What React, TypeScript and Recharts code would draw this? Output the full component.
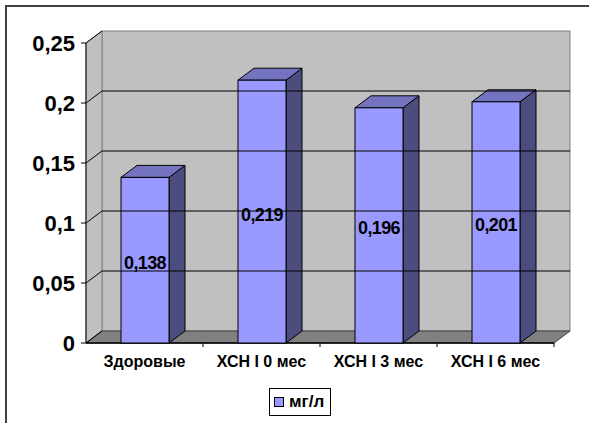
import { Bar, BarChart, LabelList, ReferenceArea, ReferenceLine, XAxis, YAxis } from 'recharts';

const CATEGORIES = ['Здоровые', 'ХСН I 0 мес', 'ХСН I 3 мес', 'ХСН I 6 мес'];
const VALUES = [0.138, 0.219, 0.196, 0.201];
const Y_TICKS = [0, 0.05, 0.1, 0.15, 0.2, 0.25];
const SERIES_NAME = 'мг/л';

const data = CATEGORIES.map((category, i) => ({ category, value: VALUES[i] }));

const FONT = 'Arial, "Liberation Sans", sans-serif';
// 3D depth of walls and bars
const DX = 16;
const DY = -12;

const WALL = '#C0C0C0';
const FLOOR = '#808080';
const FRONT = '#9999FF';
const TOP = '#7373BF';
const SIDE = '#4C4C7F';

const fmt = (v: number | string) => String(v).replace('.', ',');

function Walls(props: any) {
  const { x, y, width: w, height: h } = props;
  const band = w / CATEGORIES.length;
  return (
    <g>
      <rect x={x + DX} y={y + DY} width={w} height={h} fill={WALL} stroke="#808080" />
      <polygon
        points={`${x},${y} ${x + DX},${y + DY} ${x + DX},${y + h + DY} ${x},${y + h}`}
        fill={WALL}
        stroke="#808080"
      />
      <polygon
        points={`${x},${y + h} ${x + w},${y + h} ${x + w + DX},${y + h + DY} ${x + DX},${y + h + DY}`}
        fill={FLOOR}
        stroke="#404040"
      />
      <line x1={x} y1={y} x2={x} y2={y + h} stroke="#404040" strokeWidth={1.5} />
      <line x1={x} y1={y + h} x2={x + w} y2={y + h} stroke="#000" strokeWidth={1.5} />
      {CATEGORIES.map((c, i) => (
        <line
          key={c}
          x1={x + band * (i + 1)}
          y1={y + h}
          x2={x + band * (i + 1)}
          y2={y + h + 4}
          stroke="#000"
        />
      ))}
    </g>
  );
}

function GridLine(props: any) {
  const { x1, y1, x2, value } = props;
  if (x1 == null) return null;
  return (
    <g>
      <line x1={x1 - 5} y1={y1} x2={x1} y2={y1} stroke="#000" />
      <line x1={x1} y1={y1} x2={x1 + DX} y2={y1 + DY} stroke="#000" />
      {value > 0 && value < 0.25 && (
        <line x1={x1 + DX} y1={y1 + DY} x2={x2 + DX} y2={y1 + DY} stroke="#000" />
      )}
    </g>
  );
}

function Bar3D(props: any) {
  const { x, y, width: w, height: h } = props;
  if (!h) return null;
  return (
    <g stroke="#000" strokeWidth={1}>
      <polygon
        points={`${x + w},${y} ${x + w + DX},${y + DY} ${x + w + DX},${y + h + DY} ${x + w},${y + h}`}
        fill={SIDE}
      />
      <polygon
        points={`${x},${y} ${x + DX},${y + DY} ${x + w + DX},${y + DY} ${x + w},${y}`}
        fill={TOP}
      />
      <rect x={x} y={y} width={w} height={h} fill={FRONT} />
    </g>
  );
}

function ValueLabel(props: any) {
  const { x, y, width, height, value } = props;
  return (
    <text
      x={x + width / 2}
      y={y + height / 2 + 9}
      textAnchor="middle"
      fontFamily={FONT}
      fontSize={18}
      fontWeight="bold"
      letterSpacing={-0.6}
      fill="#000"
    >
      {fmt(value)}
    </text>
  );
}

function YTick(props: any) {
  const { x, y, payload } = props;
  return (
    <text
      x={x - 11}
      y={y + 8}
      textAnchor="end"
      fontFamily={FONT}
      fontSize={22}
      fontWeight="bold"
      fill="#000"
    >
      {fmt(payload.value)}
    </text>
  );
}

function XTick(props: any) {
  const { x, y, payload } = props;
  return (
    <text
      x={x}
      y={y + 24}
      textAnchor="middle"
      fontFamily={FONT}
      fontSize={16}
      fontWeight="bold"
      fill="#000"
    >
      {payload.value}
    </text>
  );
}

export default function App() {
  return (
    <div
      style={{
        position: 'absolute',
        left: 0,
        top: 0,
        width: 589,
        height: 423,
        overflow: 'hidden',
        background: '#fff',
        fontFamily: FONT,
      }}
    >
      <div
        style={{
          position: 'absolute',
          left: 5,
          top: 5,
          width: 640,
          height: 480,
          border: '2px solid #404040',
        }}
      />
      <div style={{ position: 'absolute', left: 0, top: 0 }}>
        <BarChart
          width={589}
          height={423}
          data={data}
          margin={{ top: 43, right: 35, bottom: 50, left: 6 }}
        >
          <XAxis
            dataKey="category"
            axisLine={false}
            tickLine={false}
            tickSize={0}
            tickMargin={0}
            height={30}
            interval={0}
            tick={<XTick />}
          />
          <YAxis
            domain={[0, 0.25]}
            ticks={Y_TICKS}
            axisLine={false}
            tickLine={false}
            tickSize={0}
            tickMargin={0}
            width={80}
            tick={<YTick />}
          />
          <ReferenceArea y1={0} y2={0.25} shape={<Walls />} fillOpacity={1} />
          {Y_TICKS.map((t) => (
            <ReferenceLine key={t} y={t} shape={(p: any) => <GridLine {...p} value={t} />} />
          ))}
          <Bar dataKey="value" name={SERIES_NAME} barSize={48} shape={<Bar3D />} isAnimationActive={false}>
            <LabelList dataKey="value" content={<ValueLabel />} />
          </Bar>
        </BarChart>
      </div>
      <div
        style={{
          position: 'absolute',
          left: 269,
          top: 388,
          width: 60,
          height: 26,
          border: '1px solid #000',
          background: '#fff',
          display: 'flex',
          alignItems: 'center',
          boxSizing: 'content-box',
        }}
      >
        <span
          style={{
            display: 'inline-block',
            width: 8,
            height: 8,
            marginLeft: 4,
            background: FRONT,
            border: '1px solid #000',
          }}
        />
        <span style={{ marginLeft: 5, fontSize: 17, fontWeight: 'bold' }}>{SERIES_NAME}</span>
      </div>
    </div>
  );
}
